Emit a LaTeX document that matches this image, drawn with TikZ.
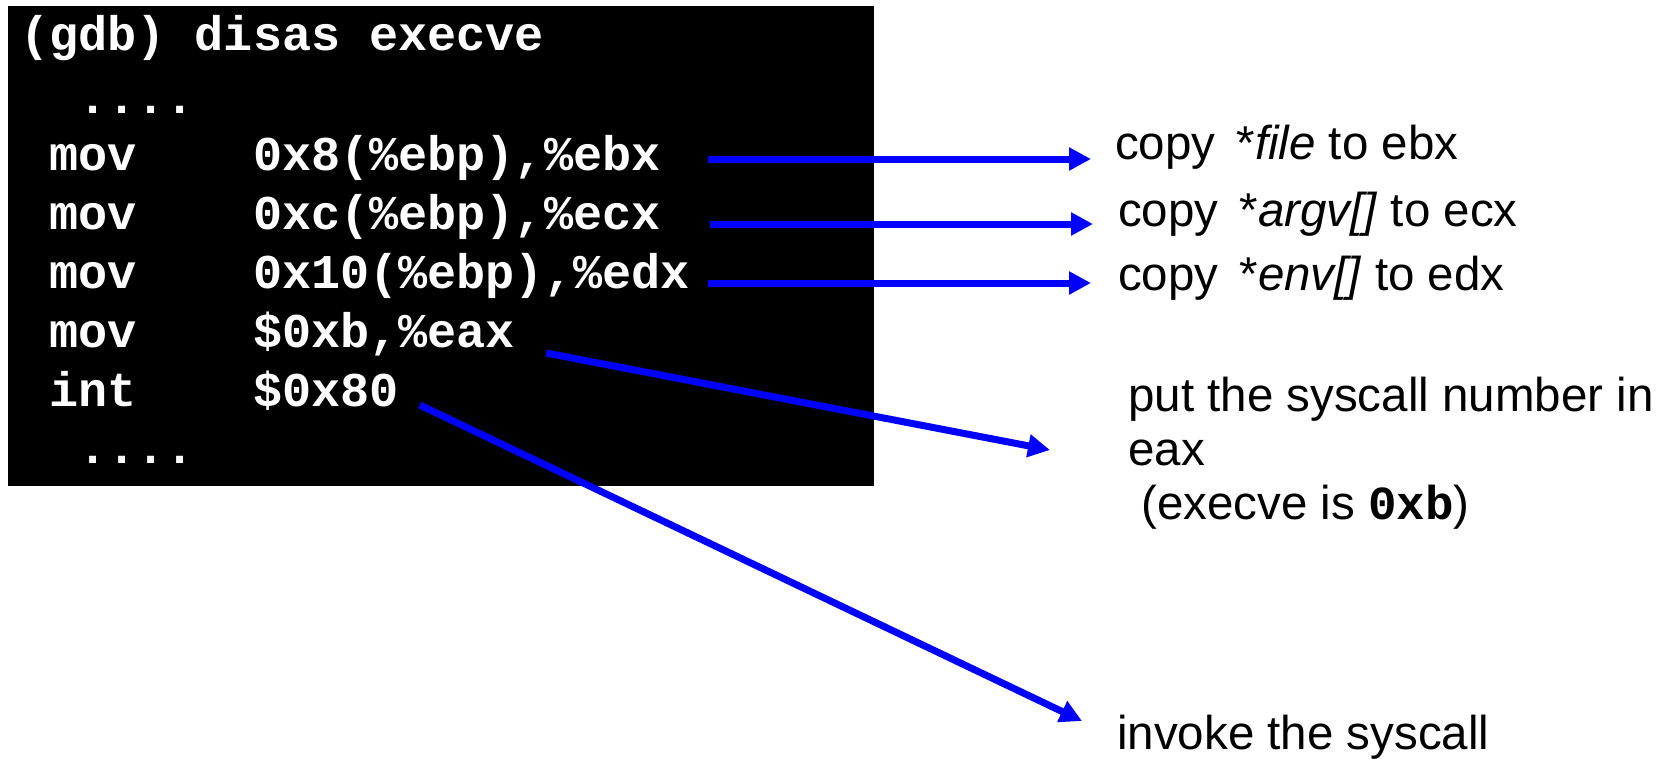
\documentclass[tikz,border=0pt]{standalone}
\usepackage{fontspec}
\setmainfont{Liberation Sans}
\newfontfamily\codefont{Liberation Mono}[WordSpace={1,0,0}]
\usetikzlibrary{arrows.meta}
\begin{document}
\begin{tikzpicture}[x=1pt,y=-1pt,
  code/.style={anchor=base west, inner sep=0pt, text=white,
    font=\codefont\bfseries\fontsize{48.5}{58}\selectfont},
  lbl/.style={anchor=base west, inner sep=0pt,
    font=\fontsize{47.5}{54}\selectfont},
  arr/.style={draw=blue, line width=7pt, -{Triangle[length=22pt,width=22pt]}}]
\useasboundingbox (0,0) rectangle (1671,758);
% gdb listing on a black panel
\fill[black] (8,6) rectangle (874,486);
\node[code] (l1) at (20,50)  {(gdb)\ disas\ execve};
\node[code] (l2) at (20,113) {\ \ ....};
\node[code] (l3) at (20,170) {\ mov\ \ \ \ 0x8(\%ebp),\%ebx};
\node[code] (l4) at (20,229) {\ mov\ \ \ \ 0xc(\%ebp),\%ecx};
\node[code] (l5) at (20,288) {\ mov\ \ \ \ 0x10(\%ebp),\%edx};
\node[code] (l6) at (20,347) {\ mov\ \ \ \ \$0xb,\%eax};
\node[code] (l7) at (20,406) {\ int\ \ \ \ \$0x80};
\node[code] (l8) at (20,463) {\ \ ....};
% explanations
\node[lbl] (c1) at (1115,159) {copy\hspace{21pt}*\textit{file} to ebx};
\node[lbl] (c2) at (1118,226) {copy\hspace{21pt}*\textit{argv[]} to ecx};
\node[lbl] (c3) at (1118,290) {copy\hspace{21pt}*\textit{env[]} to edx};
\node[lbl] (p1) at (1128,411) {put the syscall number in};
\node[lbl] (p2) at (1128,465) {eax};
\node[lbl] (p3) at (1128,519) {\ (execve is {\codefont\bfseries 0xb})};
\node[lbl] (inv) at (1117,749) {invoke the syscall};
% arrows from instructions to their explanations
\draw[arr] ([shift={(47pt,11pt)}]l3.base east) -- ([shift={(-24pt,0pt)}]c1.base west);
\draw[arr] ([shift={(49pt,5pt)}]l4.base east) -- ([shift={(-25pt,2pt)}]c2.base west);
\draw[arr] ([shift={(18pt,5pt)}]l5.base east) -- ([shift={(-27pt,7pt)}]c3.base west);
\draw[arr] ([shift={(31pt,-6pt)}]l6.base east) -- ([shift={(-78pt,-39pt)}]p1.base west);
\draw[arr] ([shift={(21pt,1pt)}]l7.base east) -- ([shift={(-35pt,28pt)}]inv.base west);
\end{tikzpicture}
\end{document}
